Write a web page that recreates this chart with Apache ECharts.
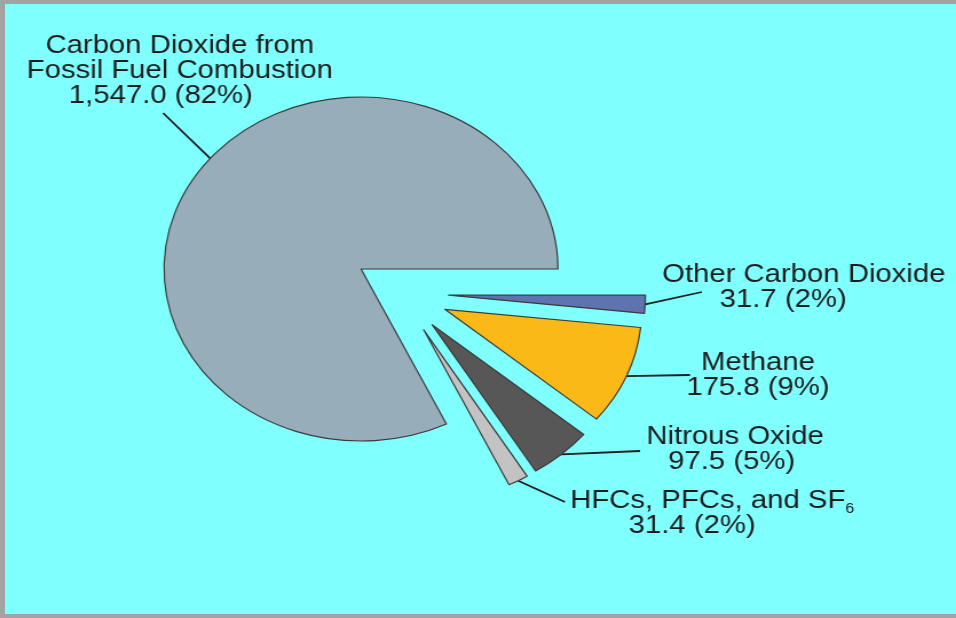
<!DOCTYPE html>
<html>
<head>
<meta charset="utf-8">
<title>Greenhouse gas emissions by gas</title>
<script src="https://cdn.jsdelivr.net/npm/echarts@6/dist/echarts.min.js"></script>
<style>
  html, body { margin: 0; padding: 0; background: #a3a3a3; }
  #frame { position: relative; width: 956px; height: 618px; background: #a3a3a3; overflow: hidden; }
  #panel { position: absolute; left: 5px; top: 4px; width: 951px; height: 610px; background: #80ffff; }
  /* the drawing is laid out on a narrower canvas and widened horizontally,
     which turns the round pie into the wide ellipse of the poster */
  #chart { position: absolute; left: 0; top: 0; width: 835px; height: 618px;
           transform: scaleX(1.145); transform-origin: 0 0; }
</style>
</head>
<body>
<div id="frame">
  <div id="panel"></div>
  <div id="chart"></div>
</div>
<script>
// Emissions by gas (Tg CO2 equivalent), in drawing order starting at 3 o'clock, clockwise
const categories = [
  'Other Carbon Dioxide',
  'Methane',
  'Nitrous Oxide',
  'HFCs, PFCs, and SF6',
  'Carbon Dioxide from Fossil Fuel Combustion'
];
const labelTitles = [
  'Other Carbon Dioxide',
  'Methane',
  'Nitrous Oxide',
  'HFCs, PFCs, and SF{sub|6}',
  'Carbon Dioxide from\nFossil Fuel Combustion'
];
const emissions = [31.7, 175.8, 97.5, 31.4, 1547.0];

const sliceColors = ['#5f73b1', '#fbb917', '#575757', '#c3c3c3', '#98adba'];

// geometry (canvas units, before horizontal widening)
const pieCenter = [315.3, 269];
const pieRadius = 172;
const groupShift = [34.5, 24];     // the small gases are pulled away as a group
const explode = 42;                // and each one separated along its own bisector

// label placement: block centre, leader end, right padding of the value line,
// optional angle (deg, clockwise from 3 o'clock) where the leader meets the slice
const labelPlaces = [
  { x: 702, y: 287, end: [613, 292], pad: 36 },
  { x: 662, y: 375, end: [602.6, 375], pad: 0 },
  { x: 642, y: 449.5, end: [559, 451], pad: 6 },
  { x: 622, y: 513, end: [493.4, 502], pad: 35 },
  { x: 157, y: 71, end: [142.4, 113], pad: 33, anchor: 220 }
];

const total = emissions.reduce((a, b) => a + b, 0);
let acc = 0;
const midAngles = emissions.map(v => {
  const a0 = acc / total * 360;
  acc += v;
  const a1 = acc / total * 360;
  return (a0 + a1) / 2;   // degrees, clockwise from 3 o'clock
});

function fmtValue(v) {
  return v.toLocaleString('en-US', { minimumFractionDigits: 1, maximumFractionDigits: 1 });
}

const textStyle = {
  fontFamily: '"Liberation Sans", Arial, Helvetica, sans-serif',
  fontSize: 25.6,
  lineHeight: 25,
  color: '#1c1c1c'
};

const series = emissions.map((_, k) => {
  const small = k < emissions.length - 1;
  const rad = midAngles[k] * Math.PI / 180;
  const cx = pieCenter[0] + (small ? groupShift[0] + explode * Math.cos(rad) : 0);
  const cy = pieCenter[1] + (small ? groupShift[1] + explode * Math.sin(rad) : 0);
  const place = labelPlaces[k];
  return {
    type: 'pie',
    silent: true,
    center: [cx, cy],
    radius: pieRadius,
    startAngle: 0,
    clockwise: true,
    avoidLabelOverlap: false,
    animation: false,
    emphasis: { disabled: true },
    label: {
      position: 'outside',
      ...textStyle,
      formatter: p => labelTitles[p.dataIndex] + '\n{val|' + fmtValue(p.value) + ' (' + Math.round(p.percent) + '%)}',
      rich: {
        val: { ...textStyle, padding: [0, place.pad, 0, 0] },
        sub: { fontFamily: textStyle.fontFamily, fontSize: 14, lineHeight: 8, padding: [17, 0, 0, 0], color: textStyle.color }
      }
    },
    labelLine: {
      lineStyle: { color: '#1c1c1c', width: 1.8 }
    },
    labelLayout: params => {
      if (params.dataIndex !== k) return {};
      let start;
      if (place.anchor != null) {
        const a = place.anchor * Math.PI / 180;
        start = [cx + pieRadius * Math.cos(a), cy + pieRadius * Math.sin(a)];
      } else if (params.labelLinePoints && params.labelLinePoints[0]) {
        start = params.labelLinePoints[0].slice();
      } else {
        start = [cx + pieRadius * Math.cos(rad), cy + pieRadius * Math.sin(rad)];
      }
      return {
        x: place.x,
        y: place.y,
        align: 'center',
        verticalAlign: 'middle',
        labelLinePoints: [start, place.end.slice()]
      };
    },
    data: emissions.map((v, i) => ({
      name: categories[i],
      value: v,
      itemStyle: i === k
        ? { color: sliceColors[i], borderColor: '#3a3a3a', borderWidth: 1.2 }
        : { color: 'rgba(0,0,0,0)', borderWidth: 0 },
      label: { show: i === k },
      labelLine: { show: i === k }
    }))
  };
});

const chart = echarts.init(document.getElementById('chart'), null, { renderer: 'canvas' });
chart.setOption({
  backgroundColor: 'transparent',
  animation: false,
  series: series
});
</script>
</body>
</html>
